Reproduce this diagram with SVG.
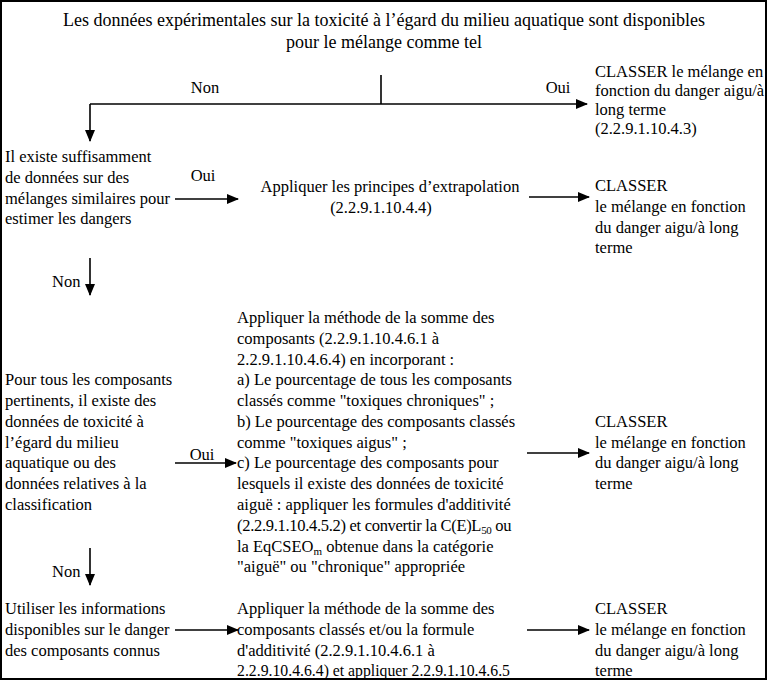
<svg xmlns="http://www.w3.org/2000/svg" width="768" height="681" viewBox="0 0 768 681">
<defs>
<style>
text{font-family:"Liberation Serif","Times New Roman",serif;font-size:16.5px;fill:#000}
.t{font-size:18px}
.c{text-anchor:middle}
.ln{stroke:#000;stroke-width:1.6;fill:none}
.sub{font-size:11px}
.nar{letter-spacing:-0.3px}
</style>
<marker id="ah" markerWidth="12" markerHeight="10" refX="11" refY="5" orient="auto" markerUnits="userSpaceOnUse">
<path d="M0,0 L12,5 L0,10 z" fill="#000"/>
</marker>
</defs>
<rect x="1" y="1" width="765" height="678" fill="#fff" stroke="#000" stroke-width="2"/>
<g id="connectors">
<path class="ln" d="M381,75 V104"/>
<path class="ln" d="M90,104 H587" marker-end="url(#ah)"/>
<path class="ln" d="M90,104 V141" marker-end="url(#ah)"/>
<path class="ln" d="M175,199 H238" marker-end="url(#ah)"/>
<path class="ln" d="M529,197 H589" marker-end="url(#ah)"/>
<path class="ln" d="M90,258 V295" marker-end="url(#ah)"/>
<path class="ln" d="M175,463 H236" marker-end="url(#ah)"/>
<path class="ln" d="M527,453 H589" marker-end="url(#ah)"/>
<path class="ln" d="M90,548 V585" marker-end="url(#ah)"/>
<path class="ln" d="M175,630 H238" marker-end="url(#ah)"/>
<path class="ln" d="M527,630 H589" marker-end="url(#ah)"/>
<text x="205" y="93" class="c">Non</text>
<text x="558" y="93" class="c">Oui</text>
<text x="203" y="181" class="c">Oui</text>
<text x="52" y="287">Non</text>
<text x="202" y="460" class="c">Oui</text>
<text x="52" y="577">Non</text>
</g>
<g id="n_start">
<text x="384" y="26" class="c t">Les données expérimentales sur la toxicité à l’égard du milieu aquatique sont disponibles</text>
<text x="384" y="48" class="c t">pour le mélange comme tel</text>
</g>
<g id="n_classer1">
<text x="595" y="77">CLASSER le mélange en</text>
<text x="595" y="96">fonction du danger aigu/à</text>
<text x="595" y="115">long terme</text>
<text x="595" y="134">(2.2.9.1.10.4.3)</text>
</g>
<g id="n_similaires">
<text x="5" y="162">Il existe suffisamment</text>
<text x="5" y="183">de données sur des</text>
<text x="5" y="204">mélanges similaires pour</text>
<text x="5" y="224">estimer les dangers</text>
</g>
<g id="n_extrapolation">
<text x="390" y="192" class="c">Appliquer les principes d’extrapolation</text>
<text x="381" y="213" class="c">(2.2.9.1.10.4.4)</text>
</g>
<g id="n_classer2">
<text x="595" y="191">CLASSER</text>
<text x="595" y="212">le mélange en fonction</text>
<text x="595" y="233">du danger aigu/à long</text>
<text x="595" y="253">terme</text>
</g>
<g id="n_composants">
<text x="5" y="385">Pour tous les composants</text>
<text x="5" y="406">pertinents, il existe des</text>
<text x="5" y="427">données de toxicité à</text>
<text x="5" y="448">l’égard du milieu</text>
<text x="5" y="468">aquatique ou des</text>
<text x="5" y="489">données relatives à la</text>
<text x="5" y="510">classification</text>
</g>
<g id="n_somme">
<text x="237" y="323">Appliquer la méthode de la somme des</text>
<text x="237" y="344">composants (2.2.9.1.10.4.6.1 à</text>
<text x="237" y="365">2.2.9.1.10.4.6.4) en incorporant :</text>
<text x="237" y="385">a) Le pourcentage de tous les composants</text>
<text x="237" y="406">classés comme "toxiques chroniques" ;</text>
<text x="237" y="427">b) Le pourcentage des composants classés</text>
<text x="237" y="448">comme "toxiques aigus" ;</text>
<text x="237" y="468">c) Le pourcentage des composants pour</text>
<text x="237" y="489">lesquels il existe des données de toxicité</text>
<text x="237" y="510">aiguë : appliquer les formules d'additivité</text>
<text x="237" y="531" class="nar">(2.2.9.1.10.4.5.2) et convertir la C(E)L<tspan class="sub" dy="3">50</tspan><tspan dy="-3"> ou</tspan></text>
<text x="237" y="552">la EqCSEO<tspan class="sub" dy="3">m</tspan><tspan dy="-3"> obtenue dans la catégorie</tspan></text>
<text x="237" y="572">"aiguë" ou "chronique" appropriée</text>
</g>
<g id="n_classer3">
<text x="595" y="427">CLASSER</text>
<text x="595" y="448">le mélange en fonction</text>
<text x="595" y="468">du danger aigu/à long</text>
<text x="595" y="489">terme</text>
</g>
<g id="n_info">
<text x="5" y="614">Utiliser les informations</text>
<text x="5" y="635">disponibles sur le danger</text>
<text x="5" y="656">des composants connus</text>
</g>
<g id="n_somme2">
<text x="237" y="614">Appliquer la méthode de la somme des</text>
<text x="237" y="635">composants classés et/ou la formule</text>
<text x="237" y="656">d'additivité (2.2.9.1.10.4.6.1 à</text>
<text x="237" y="676" textLength="273" lengthAdjust="spacingAndGlyphs">2.2.9.10.4.6.4) et appliquer 2.2.9.1.10.4.6.5</text>
</g>
<g id="n_classer4">
<text x="595" y="614">CLASSER</text>
<text x="595" y="635">le mélange en fonction</text>
<text x="595" y="656">du danger aigu/à long</text>
<text x="595" y="676">terme</text>
</g>
</svg>
